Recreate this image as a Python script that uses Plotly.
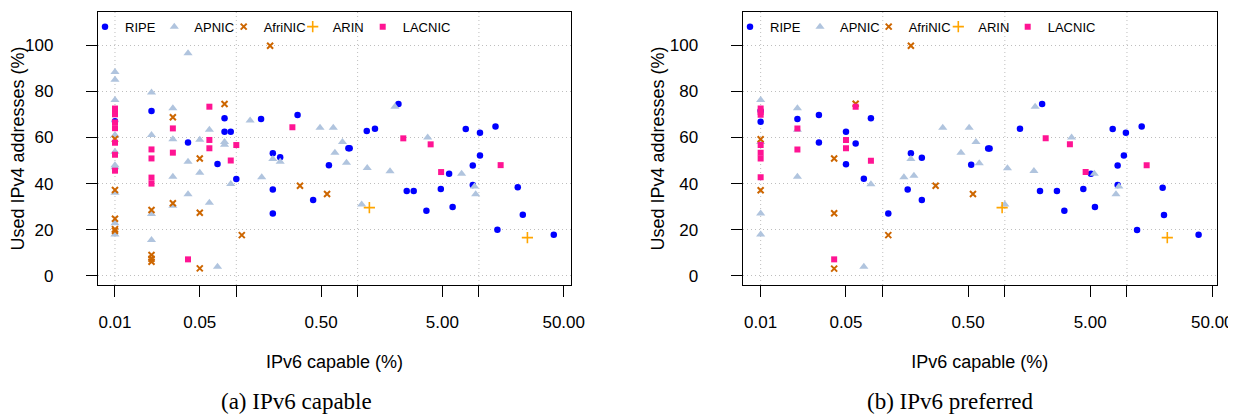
import plotly.graph_objects as go

# ---------- (a) IPv6 capable ----------
ripe_cap_x = [0.01, 0.02, 0.04, 0.07, 0.08, 0.08, 0.09, 0.1, 0.16, 0.2, 0.23, 0.2, 0.2, 0.32, 0.43,
              0.58, 0.84, 0.86, 1.19, 1.39, 2.17, 2.54, 2.9, 3.69, 4.85, 5.68, 6.07, 7.79, 8.9, 8.9,
              10.2, 10.2, 13.7, 14.2, 20.9, 23.0, 41.4]
ripe_cap_y = [67.0, 71.4, 57.8, 48.5, 68.3, 62.5, 62.5, 42.0, 68.0, 53.1, 51.4, 37.5, 27.1, 69.7, 32.9,
              48.0, 55.3, 55.3, 62.8, 63.8, 74.5, 36.8, 36.8, 28.3, 37.7, 44.3, 29.9, 63.6, 47.8, 39.4,
              62.0, 52.2, 64.7, 20.0, 38.4, 26.5, 17.9]

apnic_cap_x = [0.01, 0.01, 0.01, 0.01, 0.01, 0.01, 0.01, 0.01, 0.01, 0.01,
               0.02, 0.02, 0.02, 0.02, 0.03, 0.03, 0.03, 0.03, 0.04, 0.04, 0.04,
               0.05, 0.05, 0.06, 0.06, 0.07, 0.08, 0.08, 0.09,
               0.13, 0.162, 0.2, 0.23, 0.49, 0.63, 0.65, 0.75, 0.81, 1.08, 1.2, 1.85,
               2.03, 3.78, 7.2, 9.2, 9.4]
apnic_cap_y = [88.3, 85.0, 76.2, 61.0, 53.8, 48.0, 47.1, 36.0, 22.8, 18.0,
               79.4, 61.0, 26.8, 15.6, 72.6, 59.2, 43.0, 30.4, 96.4, 49.5, 35.4,
               59.0, 44.7, 63.3, 31.7, 4.0, 58.0, 56.8, 39.8,
               67.3, 42.7, 50.6, 49.5, 64.2, 64.2, 53.4, 58.0, 49.0, 31.0, 46.8, 45.3,
               73.3, 60.0, 44.3, 38.7, 35.4]

afrinic_cap_x = [0.01, 0.01, 0.01, 0.01, 0.01, 0.02, 0.02, 0.02, 0.02, 0.03, 0.03,
                 0.05, 0.05, 0.05, 0.08, 0.111, 0.19, 0.335, 0.56]
afrinic_cap_y = [59.3, 37.2, 24.8, 20.3, 19.6, 28.6, 9.1, 7.5, 6.2, 68.7, 31.5,
                 50.9, 27.4, 3.3, 74.5, 17.7, 99.7, 39.1, 35.5]

arin_cap_x = [1.25, 25.1]
arin_cap_y = [29.6, 16.6]

lacnic_cap_x = [0.01, 0.01, 0.01, 0.01, 0.01, 0.01, 0.01, 0.01, 0.02, 0.02, 0.02, 0.02,
                0.03, 0.03, 0.04, 0.06, 0.06, 0.06, 0.09, 0.1, 0.29, 2.38, 4.0, 4.88, 15.1]
lacnic_cap_y = [72.5, 71.0, 70.0, 66.5, 64.0, 57.7, 52.5, 45.6, 54.8, 50.9, 42.6, 40.0,
                63.9, 53.4, 7.2, 73.3, 58.9, 55.3, 50.0, 56.7, 64.4, 59.6, 57.0, 45.0, 48.0]

# ---------- (b) IPv6 preferred ----------
ripe_pref_x = [0.01, 0.01, 0.02, 0.03, 0.03, 0.05, 0.05, 0.06, 0.07, 0.08, 0.111, 0.16, 0.17,
               0.209, 0.209, 0.53, 0.73, 0.75, 1.33, 1.94, 2.02, 2.67, 3.07, 4.39, 5.07, 5.47, 7.64,
               8.39, 8.39, 9.44, 9.8, 12.1, 13.2, 19.6, 20.1, 38.6]
ripe_pref_y = [71.5, 66.8, 68.0, 69.7, 57.8, 62.4, 48.4, 57.4, 42.1, 68.3, 27.1, 37.5, 53.1,
               51.2, 32.9, 48.2, 55.2, 55.2, 63.8, 36.8, 74.5, 36.8, 28.3, 37.7, 44.3, 29.9, 63.6,
               47.8, 39.4, 52.2, 62.0, 19.9, 64.7, 38.2, 26.4, 17.9]

apnic_pref_x = [0.01, 0.01, 0.01, 0.01, 0.02, 0.02, 0.02, 0.07, 0.08, 0.149, 0.17, 0.18, 0.31,
                0.437, 0.51, 0.58, 0.617, 1.0, 1.05, 1.73, 1.77, 3.52, 5.4, 8.59, 8.13]
apnic_pref_y = [76.2, 58.0, 27.1, 18.0, 72.6, 63.3, 43.0, 4.0, 39.7, 42.7, 50.6, 43.4, 64.2,
                53.4, 64.2, 58.0, 48.8, 31.0, 46.6, 45.5, 73.3, 60.0, 44.3, 38.7, 35.4]

afrinic_pref_x = [0.01, 0.01, 0.04, 0.04, 0.04, 0.06, 0.111, 0.17, 0.271, 0.548]
afrinic_pref_y = [59.2, 37.1, 50.9, 27.2, 3.2, 74.6, 17.7, 99.7, 39.1, 35.5]

arin_pref_x = [0.95, 21.4]
arin_pref_y = [29.6, 16.6]

lacnic_pref_x = [0.01, 0.01, 0.01, 0.01, 0.01, 0.01, 0.01, 0.02, 0.02, 0.04, 0.05, 0.05,
                 0.06, 0.08, 2.16, 3.41, 4.59, 14.5]
lacnic_pref_y = [72.5, 71.0, 69.8, 56.7, 53.4, 50.9, 42.7, 63.9, 54.8, 7.2, 58.9, 55.3,
                 73.3, 49.9, 59.6, 57.0, 45.0, 48.0]

# axis ticks
x_tickvals = [0.01, 0.05, 0.1, 0.5, 1, 5, 10, 50]
x_ticktext = ["0.01", "0.05", "", "0.50", "", "5.00", "", "50.00"]
x_gridvals = [0.01, 0.1, 1, 10]
y_tickvals = [0, 20, 40, 60, 80, 100]

registries = ["RIPE", "APNIC", "AfriNIC", "ARIN", "LACNIC"]
styles = {
    "RIPE": dict(color="#0000FF", symbol="circle", size=6.5, line=dict(width=0)),
    "APNIC": dict(color="#B0C4DE", symbol="triangle-up", size=8, line=dict(width=0)),
    "AfriNIC": dict(color="#CD6600", symbol="x-thin", size=6, line=dict(width=2, color="#CD6600")),
    "ARIN": dict(color="#FFA500", symbol="cross-thin", size=8, line=dict(width=1.6, color="#FFA500")),
    "LACNIC": dict(color="#FF1493", symbol="square", size=6, line=dict(width=0)),
}

# the page body has an 8px margin, so the figure is drawn 8px smaller and all
# positions below are given in window pixels and shifted back by OFF
OFF = 8
W, H = 1236 - OFF, 414 - OFF
ML, MR, MT, MB = 40, 8, 2, 100
PW, PH = W - ML - MR, H - MT - MB


def px(xw):
    return (xw - OFF - ML) / PW


def py(yw):
    return (H - MB - (yw - OFF)) / PH


# legend symbol x positions (window px) for each panel
legend_sym_x = [[109, 178.3, 247.7, 316.7, 386.7], [754, 824, 892.7, 962.3, 1031.7]]

panels = [
    ("x", "y", {
        "RIPE": (ripe_cap_x, ripe_cap_y), "APNIC": (apnic_cap_x, apnic_cap_y),
        "AfriNIC": (afrinic_cap_x, afrinic_cap_y), "ARIN": (arin_cap_x, arin_cap_y),
        "LACNIC": (lacnic_cap_x, lacnic_cap_y)}),
    ("x2", "y2", {
        "RIPE": (ripe_pref_x, ripe_pref_y), "APNIC": (apnic_pref_x, apnic_pref_y),
        "AfriNIC": (afrinic_pref_x, afrinic_pref_y), "ARIN": (arin_pref_x, arin_pref_y),
        "LACNIC": (lacnic_pref_x, lacnic_pref_y)}),
]

fig = go.Figure()
legends = {}
k = 0
for p, (xa, ya, series) in enumerate(panels):
    for i, name in enumerate(registries):
        k += 1
        lg = "legend" if k == 1 else f"legend{k}"
        xs, ys = series[name]
        fig.add_trace(go.Scatter(x=xs, y=ys, mode="markers", name=name, marker=styles[name],
                                 xaxis=xa, yaxis=ya, legend=lg, showlegend=True))
        # one legend per entry so the entries sit at even spacing like the original
        legends[lg] = dict(x=px(legend_sym_x[p][i] - 24), y=py(11.7), xanchor="left", yanchor="top",
                           font=dict(size=13, color="black"), bgcolor="rgba(0,0,0,0)",
                           itemclick=False, itemdoubleclick=False, visible=True)

FONT = "Liberation Sans, Arial, sans-serif"
grid_col = "#BEBEBE"
grid_dash = "1px,3px"


def xaxis_cfg(domain, rng, anchor):
    return dict(domain=domain, type="log", range=rng, tickmode="array", tickvals=x_tickvals,
                ticktext=x_ticktext, ticks="outside", ticklen=11, tickcolor="black", tickwidth=1,
                showline=True, mirror=True, linecolor="black", linewidth=1.3, showgrid=False,
                zeroline=False, tickfont=dict(size=17, color="black"), ticklabelstandoff=10,
                automargin=False, anchor=anchor,
                title=dict(text="IPv6 capable (%)", font=dict(size=18, color="black"), standoff=24))


def yaxis_cfg(anchor):
    return dict(domain=[py(285), py(12)], range=[-3.9, 114.3], tickmode="array",
                tickvals=y_tickvals, ticks="outside", ticklen=11, tickcolor="black", tickwidth=1,
                showline=True, mirror=True, linecolor="black", linewidth=1.3, showgrid=True,
                gridcolor=grid_col, griddash=grid_dash, gridwidth=1, zeroline=False, anchor=anchor,
                tickfont=dict(size=17, color="black"), ticklabelstandoff=29, automargin=False,
                title=dict(text="Used IPv4 addresses (%)", font=dict(size=18, color="black"), standoff=0))


# vertical dotted grid at the decades
shapes = []
for xr, yr in [("x", "y domain"), ("x2", "y2 domain")]:
    for gv in x_gridvals:
        shapes.append(dict(type="line", xref=xr, yref=yr, x0=gv, x1=gv, y0=0, y1=1, layer="below",
                           line=dict(color=grid_col, width=1, dash=grid_dash)))

cap_font = dict(family="Liberation Serif, Times New Roman, serif", size=23, color="black")

fig.update_layout(
    width=W, height=H, margin=dict(l=ML, r=MR, t=MT, b=MB, autoexpand=False),
    paper_bgcolor="white", plot_bgcolor="white", showlegend=True,
    font=dict(family=FONT, color="black"),
    xaxis=xaxis_cfg([px(98), px(571)], [-2.14, 1.759], "y"), yaxis=yaxis_cfg("x"),
    xaxis2=xaxis_cfg([px(742.7), px(1216.7)], [-2.147, 1.735], "y2"), yaxis2=yaxis_cfg("x2"),
    shapes=shapes,
    annotations=[
        dict(text="(a) IPv6 capable", xref="paper", yref="paper", x=px(296), y=py(401),
             showarrow=False, xanchor="center", yanchor="middle", font=cap_font),
        dict(text="(b) IPv6 preferred", xref="paper", yref="paper", x=px(950), y=py(401),
             showarrow=False, xanchor="center", yanchor="middle", font=cap_font),
    ],
    **legends,
)

fig.write_html("out.html")
